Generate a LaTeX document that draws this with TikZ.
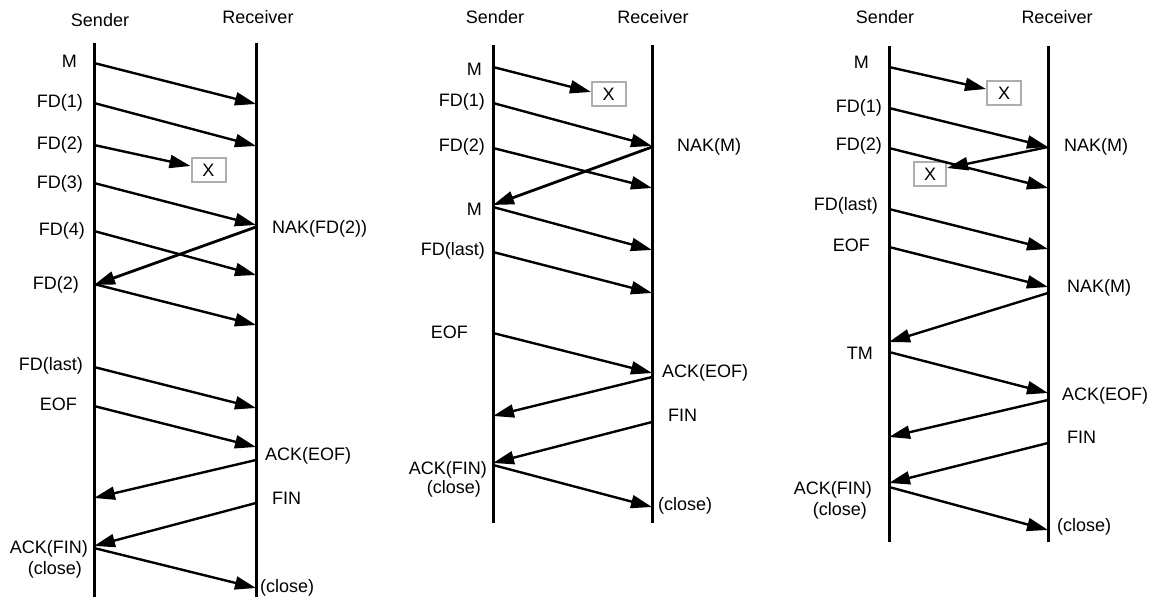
\documentclass[tikz,border=0pt]{standalone}
\usepackage{fontspec}
\setmainfont{Liberation Sans}
\usetikzlibrary{arrows.meta}
\begin{document}
\begin{tikzpicture}[x=1pt,y=-1pt,
  life/.style={line width=3pt},
  msg/.style={line width=2.4pt,-{Triangle[length=21pt,width=13pt]}},
  lbl/.style={inner sep=0pt,font=\fontsize{18}{20}\selectfont},
  ll/.style={lbl,anchor=east},
  rl/.style={lbl,anchor=west},
  hd/.style={lbl,anchor=center},
  lost/.style={draw=black!32,line width=2pt,minimum width=34pt,minimum height=24pt,inner sep=0pt,font=\fontsize{18}{20}\selectfont}]
\useasboundingbox (0,0) rectangle (1154,601);

% ================= Panel 1 =================
\node[hd] (s1) at (100,20) {Sender};
\node[hd] (r1) at (258,17) {Receiver};
\coordinate (s1t) at (94,43); \coordinate (s1b) at (94,597);
\coordinate (r1t) at (256,43); \coordinate (r1b) at (256,597);
\draw[life] (s1t) -- (s1b);
\draw[life] (r1t) -- (r1b);
\node[lost] (x1) at (208.5,170.5) {X};

\coordinate (a1) at (94,63);  \coordinate (b1) at (256,104);
\coordinate (a2) at (94,103); \coordinate (b2) at (256,146);
\coordinate (a3) at (94,145); \coordinate (b3) at (190.5,166);
\coordinate (a4) at (94,183); \coordinate (b4) at (256,225);
\coordinate (b5) at (256,227); \coordinate (a5) at (94,285);
\coordinate (a6) at (94,231); \coordinate (b6) at (256,275);
\coordinate (a7) at (94,284); \coordinate (b7) at (256,325);
\coordinate (a8) at (94,367); \coordinate (b8) at (256,408);
\coordinate (a9) at (94,406); \coordinate (b9) at (256,447);
\coordinate (b10) at (256,460); \coordinate (a10) at (94,498);
\coordinate (b11) at (256,503); \coordinate (a11) at (94,546);
\coordinate (a12) at (94,548); \coordinate (b12) at (256,588);

\draw[msg] (a1) -- (b1);
\draw[msg] (a2) -- (b2);
\draw[msg] (a3) -- (b3);
\draw[msg] (a4) -- (b4);
\draw[msg,line width=2.8pt] (b5) -- (a5);
\draw[msg] (a6) -- (b6);
\draw[msg] (a7) -- (b7);
\draw[msg] (a8) -- (b8);
\draw[msg] (a9) -- (b9);
\draw[msg] (b10) -- (a10);
\draw[msg] (b11) -- (a11);
\draw[msg] (a12) -- (b12);

\node[ll] (l1a) at (77,61) {M};
\node[ll] (l1b) at (83,103) {FD(1)};
\node[ll] (l1c) at (83,145) {FD(2)};
\node[ll] (l1d) at (83,184) {FD(3)};
\node[ll] (l1e) at (85,231) {FD(4)};
\node[ll] (l1f) at (79,285) {FD(2)};
\node[ll] (l1g) at (83,366) {FD(last)};
\node[ll] (l1h) at (77,404) {EOF};
\node[ll] (l1i) at (88,549) {ACK(FIN)};
\node[ll] (l1j) at (82,570) {(close)};
\node[rl] (l1k) at (272,229) {NAK(FD(2))};
\node[rl] (l1l) at (265,456) {ACK(EOF)};
\node[rl] (l1m) at (272,498) {FIN};
\node[rl] (l1n) at (260,588) {(close)};

% ================= Panel 2 =================
\node[hd] (s2) at (495,17) {Sender};
\node[hd] (r2) at (653,17) {Receiver};
\coordinate (s2t) at (493,45); \coordinate (s2b) at (493,523);
\coordinate (r2t) at (652,45); \coordinate (r2b) at (652,523);
\draw[life] (s2t) -- (s2b);
\draw[life] (r2t) -- (r2b);
\node[lost] (x2) at (608.5,94.5) {X};

\coordinate (c1) at (493,67);  \coordinate (d1) at (591,92);
\coordinate (c2) at (493,103); \coordinate (d2) at (652,146);
\coordinate (d3) at (652,147); \coordinate (c3) at (493,205);
\coordinate (c4) at (493,148); \coordinate (d4) at (652,188);
\coordinate (c5) at (493,207); \coordinate (d5) at (652,250);
\coordinate (c6) at (493,252); \coordinate (d6) at (652,293);
\coordinate (c7) at (493,333); \coordinate (d7) at (652,373);
\coordinate (d8) at (652,377); \coordinate (c8) at (493,416);
\coordinate (d9) at (652,422); \coordinate (c9) at (493,463);
\coordinate (c10) at (493,465); \coordinate (d10) at (652,507);

\draw[msg] (c1) -- (d1);
\draw[msg] (c2) -- (d2);
\draw[msg,line width=2.8pt] (d3) -- (c3);
\draw[msg] (c4) -- (d4);
\draw[msg] (c5) -- (d5);
\draw[msg] (c6) -- (d6);
\draw[msg] (c7) -- (d7);
\draw[msg] (d8) -- (c8);
\draw[msg] (d9) -- (c9);
\draw[msg] (c10) -- (d10);

\node[ll] (l2a) at (482,69) {M};
\node[ll] (l2b) at (485,102) {FD(1)};
\node[ll] (l2c) at (485,147) {FD(2)};
\node[ll] (l2d) at (482,209) {M};
\node[ll] (l2e) at (485,251) {FD(last)};
\node[ll] (l2f) at (468,332) {EOF};
\node[ll] (l2g) at (487,470) {ACK(FIN)};
\node[ll] (l2h) at (481,489) {(close)};
\node[rl] (l2i) at (677,147) {NAK(M)};
\node[rl] (l2j) at (662,373) {ACK(EOF)};
\node[rl] (l2k) at (668,415) {FIN};
\node[rl] (l2l) at (658,506) {(close)};

% ================= Panel 3 =================
\node[hd] (s3) at (885,17) {Sender};
\node[hd] (r3) at (1057,17) {Receiver};
\coordinate (s3t) at (889,46); \coordinate (s3b) at (889,542);
\coordinate (r3t) at (1048,46); \coordinate (r3b) at (1048,542);
\draw[life] (s3t) -- (s3b);
\draw[life] (r3t) -- (r3b);
\node[lost] (x3) at (1004,93) {X};
\node[lost,minimum width=32pt] (x4) at (930,174.5) {X};

\coordinate (e1) at (889,67);   \coordinate (f1) at (986,89);
\coordinate (e2) at (889,108);  \coordinate (f2) at (1048,147);
\coordinate (f3) at (1048,147); \coordinate (e3) at (947,168);
\coordinate (e4) at (889,148);  \coordinate (f4) at (1048,188);
\coordinate (e5) at (889,209);  \coordinate (f5) at (1048,249);
\coordinate (e6) at (889,247);  \coordinate (f6) at (1048,287);
\coordinate (f7) at (1048,293); \coordinate (e7) at (889,342);
\coordinate (e8) at (889,352);  \coordinate (f8) at (1048,393);
\coordinate (f9) at (1048,400); \coordinate (e9) at (889,437);
\coordinate (f10) at (1048,443); \coordinate (e10) at (889,483);
\coordinate (e11) at (889,487); \coordinate (f11) at (1048,530);

\draw[msg] (e1) -- (f1);
\draw[msg] (e2) -- (f2);
\draw[msg] (f3) -- (e3);
\draw[msg] (e4) -- (f4);
\draw[msg] (e5) -- (f5);
\draw[msg] (e6) -- (f6);
\draw[msg] (f7) -- (e7);
\draw[msg] (e8) -- (f8);
\draw[msg] (f9) -- (e9);
\draw[msg] (f10) -- (e10);
\draw[msg] (e11) -- (f11);

\node[ll] (l3a) at (869,62) {M};
\node[ll] (l3b) at (882,108) {FD(1)};
\node[ll] (l3c) at (882,146) {FD(2)};
\node[ll] (l3d) at (878,206) {FD(last)};
\node[ll] (l3e) at (870,245) {EOF};
\node[ll] (l3f) at (873,353) {TM};
\node[ll] (l3g) at (872,490) {ACK(FIN)};
\node[ll] (l3h) at (867,511) {(close)};
\node[rl] (l3i) at (1064,147) {NAK(M)};
\node[rl] (l3j) at (1067,288) {NAK(M)};
\node[rl] (l3k) at (1062,396) {ACK(EOF)};
\node[rl] (l3l) at (1067,437) {FIN};
\node[rl] (l3m) at (1057,527) {(close)};
\end{tikzpicture}
\end{document}
